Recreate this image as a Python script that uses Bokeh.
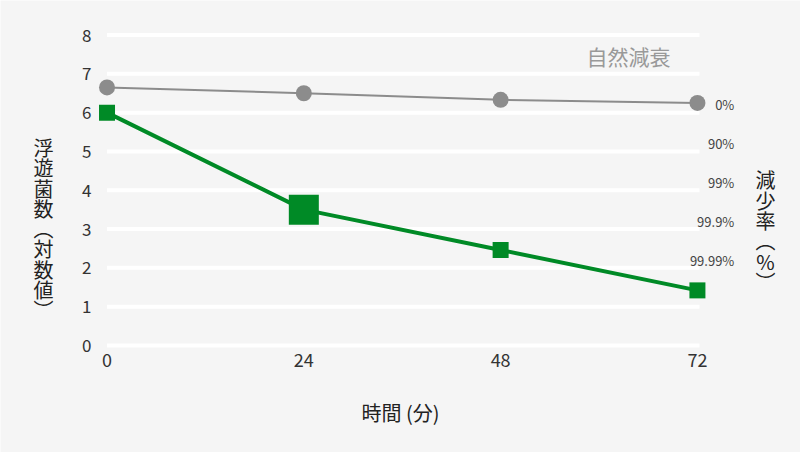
from bokeh.plotting import figure
from bokeh.models import Range1d
from bokeh.core.properties import value
from bokeh.embed import file_html
from bokeh.resources import INLINE

# ---- data ----
hours = [0, 24, 48, 72]
natural_decay = [6.65, 6.5, 6.33, 6.25]
floating_bacteria = [6.0, 3.5, 2.46, 1.42]
y_ticks = [0, 1, 2, 3, 4, 5, 6, 7, 8]
x_tick_labels = ["0", "24", "48", "72"]
y_tick_labels = ["0", "1", "2", "3", "4", "5", "6", "7", "8"]
reduction_labels = ["0%", "90%", "99%", "99.9%", "99.99%"]
reduction_levels = [6.2, 5.2, 4.2, 3.2, 2.2]
highlight_hour = 24
series_name = "自然減衰"
x_title = "時間 (分)"
y_title = list("浮遊菌数") + ["︵"] + list("対数値") + ["︶"]
y2_title = list("減少率") + ["︵", "%", "︶"]

FONT = "Noto Sans CJK JP"
BG = "#f5f5f5"
GREEN = "#008a26"
GRAY = "#8c8c8c"
TXT = "#333333"

# the frame covers the whole canvas; scales map data to pixels
p = figure(width=800, height=452, output_backend="svg", toolbar_location=None,
           x_range=Range1d(-12.99, 84.57), y_range=Range1d(-2.757, 8.889),
           x_axis_location=None, y_axis_location=None, min_border=0)
p.background_fill_color = BG
p.border_fill_color = BG
p.outline_line_color = None
p.xgrid.visible = False
p.ygrid.visible = False

# grid lines spanning the data extent
gx0 = [hours[0]] * len(y_ticks)
gx1 = [hours[-1] + 0.25] * len(y_ticks)
p.segment(x0=gx0, x1=gx1, y0=y_ticks, y1=y_ticks, line_color="white", line_width=4)

# tick labels
p.text(x=[-1.9] * len(y_ticks), y=y_ticks, text=y_tick_labels, text_align="right",
       text_baseline="middle", text_font=value(FONT), text_font_size="17px", text_color=TXT)
p.text(x=hours, y=[-0.38] * len(hours), text=x_tick_labels, text_align="center",
       text_baseline="middle", text_font=value(FONT), text_font_size="18px", text_color=TXT)

# natural decay series
p.line(hours, natural_decay, line_color=GRAY, line_width=2)
p.scatter(hours, natural_decay, marker="circle", size=16, fill_color=GRAY, line_color=None)

# bacteria series
sizes = [30 if h == highlight_hour else 16 for h in hours]
p.line(hours, floating_bacteria, line_color=GREEN, line_width=4)
p.scatter(x=hours, y=floating_bacteria, size=sizes, marker="square",
          fill_color=GREEN, line_color=None)

# reduction-rate labels
p.text(x=[76.5] * len(reduction_labels), y=reduction_levels, text=reduction_labels,
       text_align="right", text_baseline="middle", text_font=value(FONT),
       text_font_size="13px", text_color="#444444")

# series label
p.text(x=[63.6], y=[7.45], text=[series_name], text_align="center", text_baseline="middle",
       text_font=value(FONT), text_font_size="21px", text_color="#999999")

# axis titles
p.text(x=[35.8], y=[-1.73], text=[x_title], text_align="center", text_baseline="middle",
       text_font=value(FONT), text_font_size="20px", text_color="#222222")
p.text(x=[-7.74], y=[3.01], text=["\n".join(y_title)], text_align="center",
       text_baseline="middle", text_font=value(FONT), text_font_size="20px",
       text_color="#222222", text_line_height=0.7)
p.text(x=[80.3], y=[2.96], text=["\n".join(y2_title)], text_align="center",
       text_baseline="middle", text_font=value(FONT), text_font_size="20px",
       text_color="#222222", text_line_height=0.7)

open("out.html", "w").write(file_html(p, INLINE))
